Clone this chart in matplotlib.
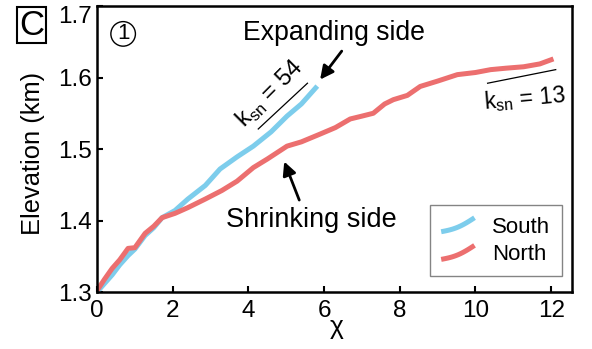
import numpy as np
import matplotlib
matplotlib.use("Agg")
import matplotlib.pyplot as plt
from matplotlib.legend_handler import HandlerLine2D
from matplotlib.lines import Line2D
import matplotlib.transforms as mtransforms

plt.rcParams['font.family'] = ['Liberation Sans', 'DejaVu Sans', 'Noto Sans CJK SC']
plt.rcParams['mathtext.fontset'] = 'custom'
plt.rcParams['mathtext.rm'] = 'Liberation Sans'

# chi vs elevation profiles
north_chi = [0, 0.2, 0.4, 0.6, 0.82, 1.0, 1.27, 1.5, 1.72, 2.06, 2.4, 2.86, 3.3, 3.7,
             4.13, 4.5, 5.02, 5.4, 5.9, 6.3, 6.69, 7.0, 7.3, 7.6, 7.83, 8.2, 8.54, 9.0,
             9.52, 10.0, 10.4, 10.8, 11.27, 11.7, 12.06]
north_elev = [1.302, 1.318, 1.333, 1.345, 1.361, 1.362, 1.382, 1.392, 1.404, 1.410, 1.418,
              1.430, 1.442, 1.455, 1.474, 1.486, 1.504, 1.510, 1.521, 1.530, 1.542, 1.546,
              1.550, 1.563, 1.569, 1.575, 1.5875, 1.595, 1.604, 1.607, 1.611, 1.613, 1.615,
              1.619, 1.626]
south_chi = [0, 0.2, 0.4, 0.6, 0.82, 1.0, 1.27, 1.5, 1.72, 2.06, 2.4, 2.86, 3.25, 3.7,
             4.13, 4.6, 5.02, 5.4, 5.82]
south_elev = [1.300, 1.312, 1.324, 1.338, 1.351, 1.360, 1.379, 1.390, 1.404, 1.414, 1.430,
              1.449, 1.472, 1.489, 1.504, 1.524, 1.546, 1.563, 1.588]

# reference slope lines
ksn54_x = [4.26, 5.56]
ksn54_y = [1.528, 1.592]
ksn13_x = [10.32, 12.12]
ksn13_y = [1.592, 1.611]

blue = '#7dcdec'
red = '#ec6f6f'


# legend handle drawn as a short curved stroke, like the original
class CurvedHandler(HandlerLine2D):
    def create_artists(self, legend, orig_handle, xdescent, ydescent,
                       width, height, fontsize, trans):
        t = np.linspace(0, 1, 20)
        xs = -xdescent + width * t
        ys = -ydescent + height * (0.05 + 0.9 * (t - 0.35 * np.sin(np.pi * t) * 0.5))
        line = Line2D(xs, ys, color=orig_handle.get_color(),
                      lw=orig_handle.get_linewidth(), solid_capstyle='butt')
        line.set_transform(trans)
        return [line]


fig = plt.figure(figsize=(5.92, 3.49), dpi=100)
ax = fig.add_axes([0.1639, 0.1633, 0.8023, 0.8195])

ls, = ax.plot(south_chi, south_elev, color=blue, lw=3.6, label='South', solid_capstyle='butt')
ln, = ax.plot(north_chi, north_elev, color=red, lw=3.6, label='North', solid_capstyle='butt')

ax.plot(ksn54_x, ksn54_y, color='black', lw=0.9)
ax.plot(ksn13_x, ksn13_y, color='black', lw=0.9)

ax.text(4.58, 1.577, r'k$_{\mathregular{sn}}$ = 54', fontsize=17, rotation=45,
        ha='center', va='center')
ax.text(11.3, 1.571, r'k$_{\mathregular{sn}}$ = 13', fontsize=16.5, rotation=5,
        ha='center', va='center')

ax.text(6.27, 1.662, 'Expanding side', fontsize=19.2, ha='center', va='center')
ax.annotate('', xy=(5.85, 1.594), xytext=(6.51, 1.640),
            arrowprops=dict(arrowstyle='-|>', color='black', lw=2, mutation_scale=20))
ax.text(5.66, 1.401, 'Shrinking side', fontsize=19.5, ha='center', va='center')
ax.annotate('', xy=(4.92, 1.486), xytext=(5.37, 1.425),
            arrowprops=dict(arrowstyle='-|>', color='black', lw=2, mutation_scale=20))

ax.text(0.69, 1.661, '1', fontsize=16, ha='center', va='center',
        bbox=dict(boxstyle='circle,pad=0.08', fc='none', ec='black', lw=1.0))

ax.set_xlim(0, 12.55)
ax.set_ylim(1.3, 1.7)
ax.set_xticks([0, 2, 4, 6, 8, 10, 12])
ax.set_yticks([1.3, 1.4, 1.5, 1.6, 1.7])
ax.set_yticklabels(['1.3', '1.4', '1.5', '1.6', '1.7'])
ax.tick_params(direction='in', length=4, width=1.5, labelsize=17.5)
ax.tick_params(axis='y', pad=4)
ax.tick_params(axis='x', pad=6)
for s in ax.spines.values():
    s.set_linewidth(1.8)

# nudge the top y label down like the original
lab = ax.get_yticklabels()[-1]
lab.set_transform(lab.get_transform() +
                  mtransforms.ScaledTranslation(0, -8 / 100, fig.dpi_scale_trans))

ax.set_xlabel('\u03c7', fontsize=19)
ax.xaxis.set_label_coords(0.505, -0.08)
ax.set_ylabel('Elevation (km)', fontsize=18.4)
ax.yaxis.set_label_coords(-0.11, 0.486)

leg = ax.legend(handles=[ls, ln], loc='lower right', fontsize=16, frameon=True,
                fancybox=False, edgecolor='#666666', handlelength=1.5,
                bbox_to_anchor=(0.978, 0.055), borderaxespad=0,
                borderpad=0.5, labelspacing=0.3, handletextpad=0.8,
                handler_map={Line2D: CurvedHandler()})
leg.get_frame().set_linewidth(1.0)

fig.text(0.053, 0.928, 'C', fontsize=25, ha='center', va='center',
         bbox=dict(boxstyle='square,pad=0.05', fc='white', ec='black', lw=1.5))

fig.savefig('out.png', dpi=100)
